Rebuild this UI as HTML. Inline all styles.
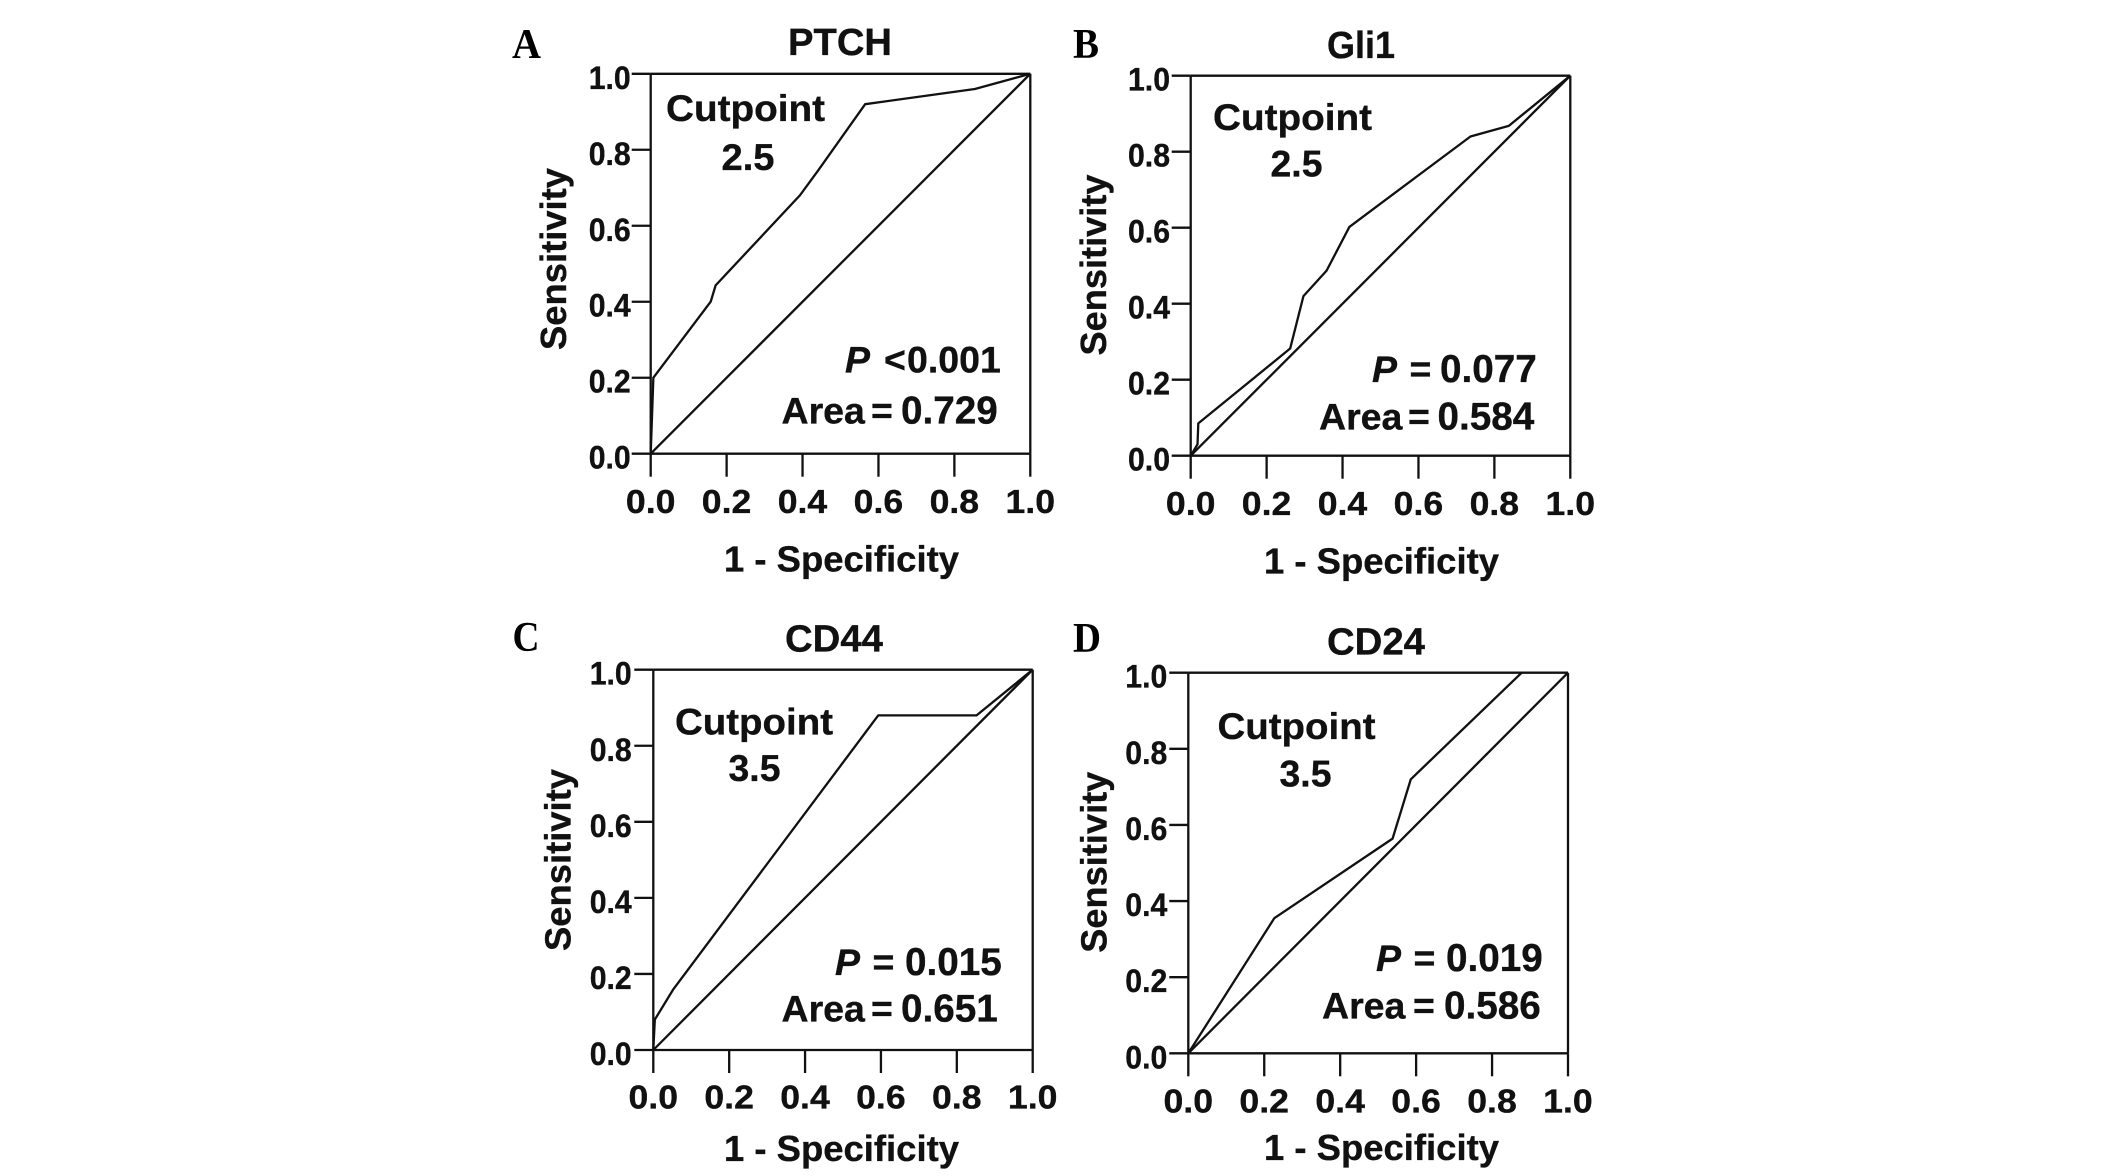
<!DOCTYPE html>
<html lang="en">
<head>
<meta charset="utf-8">
<title>ROC curves for PTCH, Gli1, CD44 and CD24</title>
<style>
html,body{margin:0;padding:0;background:#fff;width:2126px;height:1176px;overflow:hidden}
svg{display:block}
text{font-family:"Liberation Sans",sans-serif;font-weight:bold;fill:#111;stroke:#111;stroke-width:.35px}
.letter{font-family:"Liberation Serif",serif;font-size:42px;fill:#000;stroke-width:0}
.title{font-size:38px}
.note{font-size:37.5px}
.val{font-size:38.7px}
.axt{font-size:36px}
</style>
</head>
<body>
<svg id="figure" xmlns="http://www.w3.org/2000/svg" width="2126" height="1176" viewBox="0 0 2126 1176">
  <rect x="0" y="0" width="2126" height="1176" fill="#fff"/>

  <g id="panel-a">
    <text class="letter" x="512" y="58" textLength="29" lengthAdjust="spacingAndGlyphs">A</text>
    <text class="title" x="788" y="55" textLength="104" lengthAdjust="spacingAndGlyphs">PTCH</text>
    <text class="note" x="666" y="121" textLength="159" lengthAdjust="spacingAndGlyphs">Cutpoint</text>
    <text class="note" x="721.5" y="170" textLength="53" lengthAdjust="spacingAndGlyphs">2.5</text>
    <text class="note" y="372.7"><tspan x="845" font-style="italic">P</tspan><tspan x="884">&lt;</tspan><tspan x="907">0.001</tspan></text>
    <text class="note" y="423.3"><tspan x="781.5">Area</tspan><tspan x="871">=</tspan><tspan class="val" x="901">0.729</tspan></text>
    <text class="axt" transform="translate(566,350) rotate(-90)" textLength="182" lengthAdjust="spacingAndGlyphs">Sensitivity</text>
    <text class="axt" x="724" y="571.5" textLength="235" lengthAdjust="spacingAndGlyphs">1 - Specificity</text>
  </g>

  <g id="panel-b">
    <text class="letter" x="1073" y="58" textLength="26" lengthAdjust="spacingAndGlyphs">B</text>
    <text class="title" x="1327" y="58" textLength="68" lengthAdjust="spacingAndGlyphs">Gli1</text>
    <text class="note" x="1213" y="130" textLength="159" lengthAdjust="spacingAndGlyphs">Cutpoint</text>
    <text class="note" x="1270.5" y="176.5" textLength="52" lengthAdjust="spacingAndGlyphs">2.5</text>
    <text class="note" y="382.2"><tspan x="1372" font-style="italic">P</tspan><tspan x="1409.5">=</tspan><tspan class="val" x="1440">0.077</tspan></text>
    <text class="note" y="429.3"><tspan x="1319">Area</tspan><tspan x="1408">=</tspan><tspan class="val" x="1437.5">0.584</tspan></text>
    <text class="axt" transform="translate(1106,355.5) rotate(-90)" textLength="181" lengthAdjust="spacingAndGlyphs">Sensitivity</text>
    <text class="axt" x="1264" y="573.3" textLength="235" lengthAdjust="spacingAndGlyphs">1 - Specificity</text>
  </g>

  <g id="panel-c">
    <text class="letter" x="512.5" y="651" textLength="27" lengthAdjust="spacingAndGlyphs">C</text>
    <text class="title" x="785" y="651.5" textLength="98" lengthAdjust="spacingAndGlyphs">CD44</text>
    <text class="note" x="675" y="734.3" textLength="158" lengthAdjust="spacingAndGlyphs">Cutpoint</text>
    <text class="note" x="728.5" y="781" textLength="52" lengthAdjust="spacingAndGlyphs">3.5</text>
    <text class="note" y="975"><tspan x="835" font-style="italic">P</tspan><tspan x="872.5">=</tspan><tspan class="val" x="905">0.015</tspan></text>
    <text class="note" y="1021.7"><tspan x="781.5">Area</tspan><tspan x="871">=</tspan><tspan class="val" x="901">0.651</tspan></text>
    <text class="axt" transform="translate(570.7,951) rotate(-90)" textLength="182" lengthAdjust="spacingAndGlyphs">Sensitivity</text>
    <text class="axt" x="724" y="1161" textLength="235" lengthAdjust="spacingAndGlyphs">1 - Specificity</text>
  </g>

  <g id="panel-d">
    <text class="letter" x="1073" y="652" textLength="28" lengthAdjust="spacingAndGlyphs">D</text>
    <text class="title" x="1327" y="654.3" textLength="98" lengthAdjust="spacingAndGlyphs">CD24</text>
    <text class="note" x="1217.5" y="739" textLength="158" lengthAdjust="spacingAndGlyphs">Cutpoint</text>
    <text class="note" x="1279.5" y="786.7" textLength="52" lengthAdjust="spacingAndGlyphs">3.5</text>
    <text class="note" y="971"><tspan x="1376" font-style="italic">P</tspan><tspan x="1413.5">=</tspan><tspan class="val" x="1446">0.019</tspan></text>
    <text class="note" y="1018.3"><tspan x="1322">Area</tspan><tspan x="1413">=</tspan><tspan class="val" x="1444">0.586</tspan></text>
    <text class="axt" transform="translate(1106.7,952.7) rotate(-90)" textLength="181" lengthAdjust="spacingAndGlyphs">Sensitivity</text>
    <text class="axt" x="1264" y="1160" textLength="235" lengthAdjust="spacingAndGlyphs">1 - Specificity</text>
  </g>
</svg>

<script>
var tickValues = [0, 0.2, 0.4, 0.6, 0.8, 1.0];
var tickLabels = ["0.0", "0.2", "0.4", "0.6", "0.8", "1.0"];
var diagonalX = [0, 1];
var diagonalY = [0, 1];

var ptchSpecificity = [0, 0.007, 0.158, 0.171, 0.393, 0.44, 0.565, 0.854, 1];
var ptchSensitivity = [0, 0.20, 0.40, 0.443, 0.68, 0.744, 0.92, 0.96, 1];

var gli1Specificity = [0, 0.018, 0.02, 0.262, 0.297, 0.358, 0.418, 0.737, 0.838, 1];
var gli1Sensitivity = [0, 0.03, 0.085, 0.282, 0.42, 0.487, 0.602, 0.84, 0.868, 1];

var cd44Specificity = [0, 0.004, 0.053, 0.593, 0.852, 1];
var cd44Sensitivity = [0, 0.08, 0.16, 0.88, 0.88, 1];

var cd24Specificity = [0, 0.2265, 0.538, 0.586, 0.878];
var cd24Sensitivity = [0, 0.355, 0.564, 0.72, 1.0];

var NS = "http://www.w3.org/2000/svg";
var INK = "#111";
var LINE_W = 2.3;

function segment(parent, x1, y1, x2, y2, name) {
  var el = document.createElementNS(NS, "line");
  el.setAttribute("x1", x1);
  el.setAttribute("y1", y1);
  el.setAttribute("x2", x2);
  el.setAttribute("y2", y2);
  el.setAttribute("stroke", INK);
  el.setAttribute("stroke-width", LINE_W);
  
  
  parent.appendChild(el);
}

function label(parent, x, y, size, widthPx, str, name) {
  var el = document.createElementNS(NS, "text");
  el.setAttribute("x", x);
  el.setAttribute("y", y);
  el.setAttribute("font-size", size);
  el.setAttribute("textLength", widthPx);
  el.setAttribute("lengthAdjust", "spacingAndGlyphs");
  el.textContent = str;
  
  
  parent.appendChild(el);
}

function curve(parent, xs, ys, sx, sy, name) {
  var pts = [];
  for (var i = 0; i < xs.length; i++) {
    pts.push(sx(xs[i]).toFixed(2) + "," + sy(ys[i]).toFixed(2));
  }
  var el = document.createElementNS(NS, "polyline");
  el.setAttribute("points", pts.join(" "));
  el.setAttribute("fill", "none");
  el.setAttribute("stroke", INK);
  el.setAttribute("stroke-width", LINE_W);
  el.setAttribute("stroke-linejoin", "round");
  
  
  parent.appendChild(el);
}

function drawPanel(id, left, right, top, bottom, xs, ys, xLabelBase, yLabelRight) {
  var g = document.getElementById("panel-" + id);
  var sx = function (v) { return left + v * (right - left); };
  var sy = function (v) { return bottom - v * (bottom - top); };

  segment(g, left, top, right, top, "plot-frame-top-" + id);
  segment(g, right, top, right, bottom, "plot-frame-right-" + id);
  segment(g, left, top, left, bottom, "y-axis-line-" + id);
  segment(g, left, bottom, right, bottom, "x-axis-line-" + id);

  for (var i = 0; i < tickValues.length; i++) {
    var v = tickValues[i];
    segment(g, left - 19, sy(v), left, sy(v), "y-tick-" + id + "-" + tickLabels[i]);
    segment(g, sx(v), bottom, sx(v), bottom + 23, "x-tick-" + id + "-" + tickLabels[i]);
    label(g, yLabelRight - 42, sy(v) + 15, 32, 42, tickLabels[i], "y-tick-label-" + id + "-" + tickLabels[i]);
    label(g, sx(v) - 24.8, xLabelBase, 33, 49.5, tickLabels[i], "x-tick-label-" + id + "-" + tickLabels[i]);
  }

  curve(g, diagonalX, diagonalY, sx, sy, "reference-diagonal-" + id);
  curve(g, xs, ys, sx, sy, "roc-curve-" + id);
}

drawPanel("a", 650.7, 1030.3, 73.8, 453.7, ptchSpecificity, ptchSensitivity, 513, 630.7);
drawPanel("b", 1190.7, 1570.3, 75.7, 455.7, gli1Specificity, gli1Sensitivity, 515, 1170);
drawPanel("c", 653.3, 1032.7, 669.7, 1050, cd44Specificity, cd44Sensitivity, 1108.5, 631.7);
drawPanel("d", 1188.3, 1568, 672.7, 1053.3, cd24Specificity, cd24Sensitivity, 1112.5, 1167.3);
</script>
</body>
</html>
